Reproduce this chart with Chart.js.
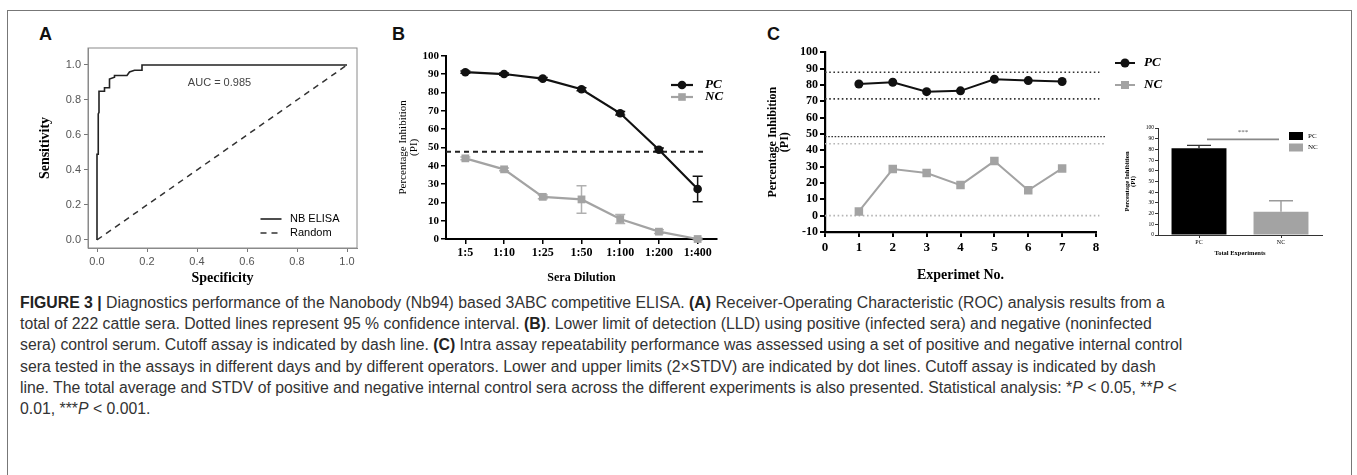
<!DOCTYPE html>
<html>
<head>
<meta charset="utf-8">
<script src="https://cdn.jsdelivr.net/npm/chart.js@4.4.1/dist/chart.umd.min.js"></script>
<style>
  body { margin: 0; background: #fff; width: 1357px; height: 475px; overflow: hidden; position: relative;
         font-family: 'Liberation Sans', Arial, sans-serif; }
  .frame { position: absolute; left: 7px; top: 10px; width: 1345px; height: 520px; border: 1.5px solid #777; box-sizing: border-box; }
  canvas { position: absolute; }
  .lab { position: absolute; font: bold 18px 'Liberation Sans', Arial, sans-serif; line-height: 18px; color: #111; }
  .cap { position: absolute; left: 20px; top: 292px; font-size: 15.8px; line-height: 21.2px; color: #333; white-space: nowrap; }
  .cap b { color: #222; }
</style>
</head>
<body>
<div class="frame"></div>
<div class="lab" style="left:39px;top:25px">A</div>
<div class="lab" style="left:392px;top:25px">B</div>
<div class="lab" style="left:767px;top:25px">C</div>

<canvas id="rocChart" width="340" height="250" style="left:30px;top:38px"></canvas>
<canvas id="dilChart" width="360" height="252" style="left:375px;top:38px"></canvas>
<canvas id="expChart" width="420" height="252" style="left:750px;top:38px"></canvas>
<canvas id="barChart" width="240" height="160" style="left:1110px;top:100px"></canvas>

<div class="cap">
  <div><b>FIGURE 3 |</b> Diagnostics performance of the Nanobody (Nb94) based 3ABC competitive ELISA. <b>(A)</b> Receiver-Operating Characteristic (ROC) analysis results from a</div>
  <div>total of 222 cattle sera. Dotted lines represent 95 % confidence interval. <b>(B)</b>. Lower limit of detection (LLD) using positive (infected sera) and negative (noninfected</div>
  <div>sera) control serum. Cutoff assay is indicated by dash line. <b>(C)</b> Intra assay repeatability performance was assessed using a set of positive and negative internal control</div>
  <div>sera tested in the assays in different days and by different operators. Lower and upper limits (2×STDV) are indicated by dot lines. Cutoff assay is indicated by dash</div>
  <div>line. The total average and STDV of positive and negative internal control sera across the different experiments is also presented. Statistical analysis: *<i>P</i> &lt; 0.05, **<i>P</i> &lt;</div>
  <div>0.01, ***<i>P</i> &lt; 0.001.</div>
</div>

<script>
// ---- data ----
// A: ROC curve (false positive rate vs sensitivity)
const rocX = [0, 0, 0.005, 0.005, 0.008, 0.008, 0.03, 0.03, 0.05, 0.05, 0.07, 0.07, 0.12, 0.13, 0.15, 0.18, 0.18, 1.0];
const rocY = [0, 0.49, 0.49, 0.72, 0.73, 0.85, 0.85, 0.87, 0.87, 0.92, 0.93, 0.94, 0.94, 0.96, 0.97, 0.97, 1.0, 1.0];
const randomX = [0, 1];
const randomY = [0, 1];
const aucLabel = 'AUC = 0.985';

// B: sera dilution
const dilutions = ['1:5', '1:10', '1:25', '1:50', '1:100', '1:200', '1:400'];
const pcDil = [91, 90, 87.5, 81.7, 68.6, 48.7, 27.3];
const pcDilErr = [0.6, 0.6, 0.6, 0.8, 1, 1, 7];
const ncDil = [44, 38, 23, 21.6, 10.9, 4, 0];
const ncDilErr = [0.8, 0.8, 1, 7.5, 2.5, 1, 0.5];
const cutoffB = 47.6;

// C: repeatability per experiment
const experiments = [1, 2, 3, 4, 5, 6, 7];
const pcExp = [80.6, 81.7, 75.9, 76.4, 83.5, 82.7, 82.1];
const ncExp = [2.6, 28.5, 26.1, 18.7, 33.4, 15.5, 28.9];
const pcLimits = [87.8, 71.5];
const ncLimits = [44, 0];
const cutoffC = 48.4;

// C inset: totals
const groups = ['PC', 'NC'];
const groupMean = [81, 21.8];
const groupErr = [2.8, 10.2];
const sigLevel = 89.4;
const sigText = '***';

const serif = "'Liberation Serif', 'Times New Roman', serif";
const sans = "'Liberation Sans', Arial, sans-serif";
const grey = '#a3a3a3';

Chart.defaults.font.family = serif;
Chart.defaults.color = '#000';
Chart.defaults.animation = false;
Chart.defaults.plugins.legend.display = false;
Chart.defaults.plugins.tooltip.enabled = false;

// ---- small helper plugins ----
function errorBarsPlugin(cap, upperOnly, onTop) {
  function draw(chart) {
    const ctx = chart.ctx, y = chart.scales.y;
    chart.data.datasets.forEach((ds, di) => {
      if (!ds.errors) return;
      const meta = chart.getDatasetMeta(di);
      ctx.save();
      ctx.strokeStyle = ds.errorColor;
      ctx.lineWidth = ds.errorWidth || 1.5;
      meta.data.forEach((el, i) => {
        const e = ds.errors[i];
        if (!e) return;
        const v = typeof ds.data[i] === 'object' ? ds.data[i].y : ds.data[i];
        const top = y.getPixelForValue(v + e);
        const bot = upperOnly ? y.getPixelForValue(v) : y.getPixelForValue(v - e);
        ctx.beginPath();
        ctx.moveTo(el.x, top); ctx.lineTo(el.x, bot);
        ctx.moveTo(el.x - cap, top); ctx.lineTo(el.x + cap, top);
        if (!upperOnly) { ctx.moveTo(el.x - cap, bot); ctx.lineTo(el.x + cap, bot); }
        ctx.stroke();
      });
      ctx.restore();
    });
  }
  return {
    id: 'errorBars',
    beforeDatasetsDraw(chart) { if (!onTop) draw(chart); },
    afterDatasetsDraw(chart) { if (onTop) draw(chart); }
  };
}

function hLinesPlugin(lines) {
  return {
    id: 'hLines',
    beforeDatasetsDraw(chart) {
      const {ctx, scales: {x, y}} = chart;
      lines.forEach(l => {
        const py = y.getPixelForValue(l.value);
        ctx.save();
        ctx.strokeStyle = l.color;
        ctx.lineWidth = l.width;
        ctx.setLineDash(l.dash);
        ctx.beginPath();
        ctx.moveTo(x.getPixelForValue(l.from), py);
        ctx.lineTo(x.getPixelForValue(l.to), py);
        ctx.stroke();
        ctx.restore();
      });
    }
  };
}

// legend drawn at a free spot (line + marker + label for each dataset that has a legend flag)
function floatLegendPlugin(x0, y0, rowGap, font, lineLen, textGap) {
  return {
    id: 'floatLegend',
    afterDraw(chart) {
      const ctx = chart.ctx;
      let row = 0;
      chart.data.datasets.forEach(ds => {
        if (!ds.legend) return;
        const y = y0 + row * rowGap;
        ctx.save();
        if (lineLen) {
          ctx.strokeStyle = ds.borderColor;
          ctx.lineWidth = ds.borderWidth;
          ctx.setLineDash(ds.borderDash || []);
          ctx.beginPath();
          ctx.moveTo(x0 - lineLen / 2, y); ctx.lineTo(x0 + lineLen / 2, y);
          ctx.stroke();
          ctx.setLineDash([]);
        }
        ctx.fillStyle = ds.legendFill || ds.pointBackgroundColor || ds.backgroundColor;
        const r = ds.legendRadius || 0;
        if (ds.legendShape === 'circle') {
          ctx.beginPath(); ctx.arc(x0, y, r, 0, Math.PI * 2); ctx.fill();
        } else if (ds.legendShape === 'square') {
          ctx.fillRect(x0 - r, y - r, 2 * r, 2 * r);
        } else if (ds.legendShape === 'box') {
          ctx.fillRect(x0 - 7, y - 4, 14, 8);
        }
        ctx.fillStyle = '#000';
        ctx.font = font;
        ctx.textBaseline = 'middle';
        ctx.fillText(ds.label, x0 + textGap, y);
        ctx.restore();
        row++;
      });
    }
  };
}

function textPlugin(items) {
  return {
    id: 'texts',
    afterDraw(chart) {
      const {ctx, scales: {x, y}} = chart;
      items.forEach(t => {
        ctx.save();
        ctx.font = t.font;
        ctx.fillStyle = t.color;
        ctx.textAlign = 'center';
        ctx.textBaseline = 'middle';
        ctx.fillText(t.text, x.getPixelForValue(t.x), y.getPixelForValue(t.y));
        ctx.restore();
      });
    }
  };
}

// ---- A: ROC ----
const rocFrame = {
  id: 'rocFrame',
  beforeDatasetsDraw(chart) {
    const {ctx, chartArea: a} = chart;
    ctx.save();
    ctx.strokeStyle = '#8a8a8a';
    ctx.lineWidth = 1;
    ctx.strokeRect(a.left, a.top, a.right - a.left, a.bottom - a.top);
    ctx.restore();
  }
};

new Chart(document.getElementById('rocChart'), {
  type: 'scatter',
  data: {
    datasets: [
      { label: 'NB ELISA', data: rocX.map((v, i) => ({x: v, y: rocY[i]})), showLine: true,
        pointRadius: 0, borderColor: '#222', borderWidth: 1.6, legend: true },
      { label: 'Random', data: randomX.map((v, i) => ({x: v, y: randomY[i]})), showLine: true,
        pointRadius: 0, borderColor: '#333', borderWidth: 1.5, borderDash: [6, 5], legend: true }
    ]
  },
  options: {
    responsive: false,
    layout: { padding: { top: 10, right: 13, left: 0, bottom: 0 } },
    scales: {
      x: {
        type: 'linear', min: -0.036, max: 1.04,
        afterBuildTicks: s => { s.ticks = [0, 0.2, 0.4, 0.6, 0.8, 1].map(v => ({value: v})); },
        afterFit: s => { s.height = 40; },
        ticks: { callback: v => v.toFixed(1), font: { family: sans, size: 11 }, color: '#555', padding: 3, maxRotation: 0 },
        grid: { drawOnChartArea: false, tickLength: 4, color: '#777' },
        border: { color: '#8a8a8a' },
        title: { display: true, text: 'Specificity', font: { family: serif, size: 14, weight: 'bold' }, padding: { top: 0, bottom: 1.6 } }
      },
      y: {
        type: 'linear', min: -0.046, max: 1.097,
        afterBuildTicks: s => { s.ticks = [0, 0.2, 0.4, 0.6, 0.8, 1].map(v => ({value: v})); },
        afterFit: s => { s.width = 58; },
        ticks: { callback: v => v.toFixed(1), font: { family: sans, size: 11 }, color: '#555', padding: 3 },
        grid: { drawOnChartArea: false, tickLength: 4, color: '#777' },
        border: { color: '#8a8a8a' },
        title: { display: true, text: 'Sensitivity', font: { family: serif, size: 14, weight: 'bold' }, padding: { top: 6.6, bottom: 0 } }
      }
    }
  },
  plugins: [
    rocFrame,
    floatLegendPlugin(241, 181, 14, '11px ' + sans, 21, 19),
    textPlugin([{ text: aucLabel, x: 0.49, y: 0.9, font: '11px ' + sans, color: '#444' }])
  ]
});

// ---- B: sera dilution ----
new Chart(document.getElementById('dilChart'), {
  type: 'line',
  data: {
    labels: dilutions,
    datasets: [
      { label: 'PC', data: pcDil, errors: pcDilErr, errorColor: '#111', borderColor: '#111', borderWidth: 2.2,
        pointStyle: 'circle', pointRadius: 4.3, pointBackgroundColor: '#111', pointBorderWidth: 0, clip: false,
        legend: true, legendShape: 'circle', legendRadius: 4.3 },
      { label: 'NC', data: ncDil, errors: ncDilErr, errorColor: '#b0b0b0', borderColor: grey, borderWidth: 2.2,
        pointStyle: 'rect', pointRadius: 5.5, pointBackgroundColor: grey, pointBorderWidth: 0, clip: false,
        legend: true, legendShape: 'square', legendRadius: 3.8 }
    ]
  },
  options: {
    responsive: false,
    layout: { padding: { top: 17.7, right: 18, left: 0, bottom: 0 } },
    scales: {
      x: {
        type: 'category', offset: true,
        afterFit: s => { s.height = 51; },
        ticks: { font: { size: 12, weight: 'bold' }, padding: 2, maxRotation: 0, autoSkip: false },
        grid: { drawOnChartArea: false, offset: false, tickLength: 5, color: '#000', lineWidth: 1.5 },
        border: { color: '#000', width: 2 },
        title: { display: true, text: 'Sera Dilution', font: { size: 12, weight: 'bold' }, padding: { top: 0, bottom: 4.8 } }
      },
      y: {
        min: 0, max: 100,
        afterFit: s => { s.width = 71; },
        ticks: { stepSize: 10, autoSkip: false, font: { size: 11, weight: 'bold' }, padding: 2 },
        grid: { drawOnChartArea: false, tickLength: 5, color: '#000', lineWidth: 1.5 },
        border: { color: '#000', width: 2 },
        title: { display: true, text: ['Percentage Inhibition', '(PI)'], font: { size: 11, lineHeight: 1.0 }, padding: { top: 22.5, bottom: 0 } }
      }
    }
  },
  plugins: [
    hLinesPlugin([{ value: cutoffB, color: '#222', width: 1.8, dash: [5, 4], from: -0.5, to: 6.2 }]),
    errorBarsPlugin(5, false, false),
    floatLegendPlugin(307, 47, 12, 'italic bold 13px ' + serif, 22, 23)
  ]
});

// ---- C: repeatability ----
new Chart(document.getElementById('expChart'), {
  type: 'line',
  data: {
    datasets: [
      { label: 'PC', data: experiments.map((e, i) => ({x: e, y: pcExp[i]})), borderColor: '#111', borderWidth: 2,
        pointStyle: 'circle', pointRadius: 4.5, pointBackgroundColor: '#111', pointBorderWidth: 0,
        legend: true, legendShape: 'circle', legendRadius: 4.5 },
      { label: 'NC', data: experiments.map((e, i) => ({x: e, y: ncExp[i]})), borderColor: grey, borderWidth: 2,
        pointStyle: 'rect', pointRadius: 6, pointBackgroundColor: grey, pointBorderWidth: 0,
        legend: true, legendShape: 'square', legendRadius: 4 }
    ]
  },
  options: {
    responsive: false,
    layout: { padding: { top: 14.3, right: 74, left: 0, bottom: 0 } },
    scales: {
      x: {
        type: 'linear', min: 0, max: 8,
        afterFit: s => { s.height = 58; },
        ticks: { stepSize: 1, autoSkip: false, font: { size: 13, weight: 'bold' }, padding: 3, maxRotation: 0 },
        grid: { drawOnChartArea: false, tickLength: 5, color: '#000', lineWidth: 2 },
        border: { color: '#000', width: 2.2 },
        title: { display: true, text: 'Experimet No.', font: { size: 14, weight: 'bold' }, padding: { top: 0, bottom: 6.6 } }
      },
      y: {
        min: -10, max: 100,
        afterFit: s => { s.width = 75; },
        ticks: { stepSize: 10, autoSkip: false, font: { size: 12, weight: 'bold' }, padding: 2 },
        grid: { drawOnChartArea: false, tickLength: 5, color: '#000', lineWidth: 2 },
        border: { color: '#000', width: 2.2 },
        title: { display: true, text: ['Percentage Inhibition', '(PI)'], font: { size: 12, weight: 'bold', lineHeight: 1.0 }, padding: { top: 17, bottom: 0 } }
      }
    }
  },
  plugins: [
    hLinesPlugin([
      { value: pcLimits[0], color: '#333', width: 1.6, dash: [1.6, 2.6], from: 0, to: 8.1 },
      { value: pcLimits[1], color: '#333', width: 1.6, dash: [1.6, 2.6], from: 0, to: 8.1 },
      { value: cutoffC, color: '#333', width: 1.4, dash: [1.6, 1.6], from: 0, to: 8.3 },
      { value: ncLimits[0], color: '#b5b5b5', width: 1.6, dash: [1.6, 2.6], from: 0, to: 8.3 },
      { value: ncLimits[1], color: '#b5b5b5', width: 1.6, dash: [1.6, 2.6], from: 0, to: 8.1 }
    ]),
    floatLegendPlugin(375, 25, 22, 'italic bold 13px ' + serif, 20, 19)
  ]
});

// ---- C inset: total experiments ----
const sigPlugin = {
  id: 'sig',
  afterDatasetsDraw(chart) {
    const {ctx, scales: {x, y}} = chart;
    const py = y.getPixelForValue(sigLevel);
    ctx.save();
    ctx.strokeStyle = '#888';
    ctx.lineWidth = 1.8;
    ctx.beginPath();
    ctx.moveTo(x.getPixelForValue(0) + 8, py);
    ctx.lineTo(x.getPixelForValue(1) - 2, py);
    ctx.stroke();
    ctx.fillStyle = '#555';
    ctx.font = '7px ' + serif;
    ctx.textAlign = 'center';
    ctx.fillText(sigText, (x.getPixelForValue(0) + x.getPixelForValue(1)) / 2 + 3, py - 5);
    ctx.restore();
  }
};

new Chart(document.getElementById('barChart'), {
  type: 'bar',
  data: {
    labels: groups,
    datasets: [
      { label: 'PC', data: [groupMean[0], null], errors: [groupErr[0], 0], errorColor: '#333', errorWidth: 1.4,
        backgroundColor: '#000', barPercentage: 0.67, categoryPercentage: 1, grouped: false,
        legend: true, legendShape: 'box' },
      { label: 'NC', data: [null, groupMean[1]], errors: [0, groupErr[1]], errorColor: '#9a9a9a', errorWidth: 1.4,
        backgroundColor: grey, barPercentage: 0.67, categoryPercentage: 1, grouped: false,
        legend: true, legendShape: 'box' }
    ]
  },
  options: {
    responsive: false,
    layout: { padding: { top: 28, right: 28, left: 0, bottom: 0 } },
    scales: {
      x: {
        afterFit: s => { s.height = 25; },
        ticks: { font: { size: 6 }, padding: 1 },
        grid: { drawOnChartArea: false, offset: false, tickLength: 3, color: '#333' },
        border: { color: '#333', width: 1 },
        title: { display: true, text: 'Total Experiments', font: { size: 6.5, weight: 'bold' }, padding: { top: 0, bottom: 3.1 } }
      },
      y: {
        min: 0, max: 100,
        afterFit: s => { s.width = 48; },
        ticks: { stepSize: 10, autoSkip: false, font: { size: 5.5 }, padding: 1 },
        grid: { drawOnChartArea: false, tickLength: 3, color: '#333' },
        border: { color: '#333', width: 1 },
        title: { display: true, text: ['Percentage Inhibition', '(PI)'], font: { size: 6.5, weight: 'bold', lineHeight: 1.0 }, padding: { top: 13.7, bottom: 0 } }
      }
    }
  },
  plugins: [
    errorBarsPlugin(12, true, true),
    sigPlugin,
    floatLegendPlugin(186, 36, 11.5, '7px ' + serif, 0, 12)
  ]
});
</script>
</body>
</html>
